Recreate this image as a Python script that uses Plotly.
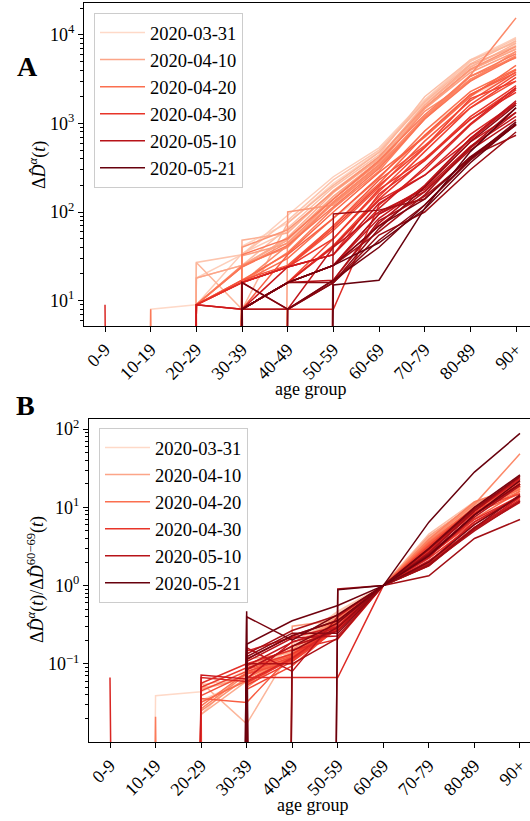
import plotly.graph_objects as go
from plotly.colors import sample_colorscale

age_groups = ["0-9", "10-19", "20-29", "30-39", "40-49", "50-59",
              "60-69", "70-79", "80-89", "90+"]

dates = ["2020-03-31", "2020-04-01", "2020-04-02", "2020-04-03", "2020-04-04",
         "2020-04-05", "2020-04-06", "2020-04-07", "2020-04-08", "2020-04-09",
         "2020-04-10", "2020-04-11", "2020-04-12", "2020-04-13", "2020-04-14",
         "2020-04-15", "2020-04-16", "2020-04-17", "2020-04-18", "2020-04-19",
         "2020-04-20", "2020-04-21", "2020-04-22", "2020-04-23", "2020-04-24",
         "2020-04-25", "2020-04-26", "2020-04-27", "2020-04-28", "2020-04-29",
         "2020-04-30", "2020-05-01", "2020-05-02", "2020-05-03", "2020-05-04",
         "2020-05-05", "2020-05-06", "2020-05-07", "2020-05-08", "2020-05-09",
         "2020-05-10", "2020-05-11", "2020-05-12", "2020-05-13", "2020-05-14",
         "2020-05-15", "2020-05-16", "2020-05-17", "2020-05-18", "2020-05-19",
         "2020-05-20", "2020-05-21"]

legend_dates = ["2020-03-31", "2020-04-10", "2020-04-20",
                "2020-04-30", "2020-05-10", "2020-05-21"]

# Delta D-hat per age group (one value per date, in the order of `dates`)
d_0_9 = [0, 0, 0, 0, 0, 0, 0, 0, 0, 0,
         0, 0, 0, 0, 0, 0, 0, 0, 0, 0,
         0, 0, 0, 0, 0, 0, 0, 0, 0, 0,
         0, 0, 0, 9, 0, 0, 0, 0, 0, 0,
         0, 0, 0, 0, 0, 0, 0, 0, 0, 0,
         0, 0]
d_10_19 = [8, 0, 0, 0, 0, 0, 0, 0, 0, 0,
           0, 0, 0, 0, 0, 0, 0, 0, 8, 0,
           0, 0, 0, 0, 0, 0, 0, 0, 0, 0,
           0, 0, 0, 0, 0, 0, 0, 0, 0, 0,
           0, 0, 0, 0, 0, 0, 0, 0, 0, 0,
           0, 0]
d_20_29 = [9, 0, 18, 9, 27, 0, 18, 27, 0, 9,
           18, 0, 9, 0, 9, 0, 9, 0, 0, 9,
           0, 9, 0, 9, 0, 9, 0, 9, 0, 9,
           0, 9, 0, 9, 0, 0, 9, 0, 0, 0,
           0, 0, 0, 0, 0, 0, 0, 0, 0, 0,
           0, 0]
d_30_39 = [17, 41, 33, 34, 33, 25, 25, 8, 48, 24,
           25, 32, 0, 40, 24, 16, 25, 16, 33, 24,
           16, 17, 16, 8, 16, 17, 8, 16, 8, 16,
           8, 16, 8, 8, 16, 8, 8, 8, 16, 8,
           8, 8, 8, 8, 16, 0, 8, 0, 8, 16,
           8, 8]
d_40_49 = [34, 75, 92, 60, 80, 66, 50, 75, 58, 52,
           48, 44, 100, 63, 45, 42, 40, 35, 50, 42,
           30, 34, 24, 33, 24, 25, 16, 24, 16, 24,
           16, 24, 8, 16, 24, 16, 24, 16, 8, 16,
           16, 16, 8, 16, 0, 8, 16, 8, 16, 8,
           16, 0]
d_50_59 = [85, 210, 250, 170, 230, 190, 150, 200, 175, 165,
           150, 130, 120, 170, 140, 125, 130, 110, 140, 115,
           85, 100, 70, 85, 62, 70, 50, 66, 42, 50,
           40, 33, 8, 41, 33, 25, 33, 25, 40, 17,
           25, 25, 17, 25, 95, 16, 16, 16, 25, 17,
           25, 15]
d_60_69 = [205, 480, 530, 400, 500, 440, 370, 470, 420, 400,
           380, 340, 330, 420, 360, 320, 340, 290, 380, 310,
           240, 280, 210, 250, 190, 230, 170, 200, 150, 180,
           140, 160, 120, 135, 110, 95, 125, 85, 100, 75,
           95, 70, 80, 60, 105, 55, 65, 48, 70, 40,
           45, 17]
d_70_79 = [820, 1780, 1850, 1680, 1800, 2000, 1520, 1740, 1600, 1600,
           1480, 1460, 1120, 1510, 1370, 1180, 1190, 1130, 1250, 1120,
           820, 700, 735, 725, 630, 560, 530, 540, 480, 400,
           390, 380, 300, 260, 320, 190, 260, 195, 180, 200,
           170, 170, 150, 156, 140, 100, 190, 120, 140, 120,
           108, 110]
d_80_89 = [2050, 5000, 5200, 4400, 5000, 5200, 4000, 4700, 4300, 4600,
           4000, 3750, 3150, 4100, 3000, 3500, 3130, 3400, 3400, 3000,
           2280, 2000, 2100, 2120, 1790, 1500, 1630, 1900, 1500, 1100,
           1190, 1120, 960, 750, 990, 620, 650, 680, 550, 675,
           500, 525, 400, 540, 420, 300, 620, 385, 420, 400,
           360, 480]
d_90_plus = [3500, 8600, 9300, 7600, 9000, 8150, 7000, 8500, 8000, 7400,
             6850, 6450, 5600, 7350, 6500, 15500, 5800, 5500, 6100, 5600,
             4100, 4500, 4000, 3750, 3800, 3000, 3570, 3000, 3300, 2500,
             2660, 2240, 2400, 1700, 2530, 1330, 1700, 1700, 1200, 1800,
             1100, 1330, 960, 1500, 735, 800, 1620, 960, 980, 1040,
             990, 1500]

columns = [d_0_9, d_10_19, d_20_29, d_30_39, d_40_49, d_50_59,
           d_60_69, d_70_79, d_80_89, d_90_plus]
ref_index = age_groups.index("60-69")

W, H = 530, 821
SERIF = "Liberation Serif, Times New Roman, serif"
FLOOR = 1e-60  # zero counts are clipped far below the axis (as matplotlib does)

xs = list(range(len(age_groups)))
n = len(dates)
fig = go.Figure()
for i, date in enumerate(dates):
    vals = [col[i] for col in columns]
    ref = vals[ref_index]
    ratio = [v / ref for v in vals]
    color = sample_colorscale("Reds", [0.15 + 0.85 * i / (n - 1)])[0]
    show = date in legend_dates
    yA = [v if v > 0 else FLOOR for v in vals]
    yB = [r if r > 0 else FLOOR for r in ratio]
    fig.add_trace(go.Scatter(
        x=xs, y=yA, mode="lines", name=date, showlegend=show,
        legend="legend", legendgroup="A" + date,
        line=dict(color=color, width=1.5), xaxis="x", yaxis="y"))
    fig.add_trace(go.Scatter(
        x=xs, y=yB, mode="lines", name=date, showlegend=show,
        legend="legend2", legendgroup="B" + date,
        line=dict(color=color, width=1.5), xaxis="x2", yaxis="y2"))


def px_x(p):
    return p / W


def px_y(p):
    return 1 - p / H


def log_minor(lo, hi):
    out = []
    for e in range(lo, hi):
        for m in range(2, 10):
            out.append(m * 10 ** e)
    return out


tickfont = dict(family=SERIF, size=18, color="black")
common_x = dict(tickvals=xs, ticktext=age_groups, tickangle=-45,
                ticks="outside", ticklen=5, tickcolor="black",
                showline=True, linecolor="black", linewidth=1, mirror=True,
                showgrid=False, zeroline=False, tickfont=tickfont,
                automargin=False)
common_y = dict(type="log", ticks="outside", ticklen=5, tickcolor="black",
                showline=True, linecolor="black", linewidth=1,
                showgrid=False, zeroline=False, tickfont=tickfont,
                automargin=False)
legend_common = dict(xanchor="left", yanchor="top",
                     bgcolor="rgba(255,255,255,0.85)", bordercolor="#cccccc",
                     borderwidth=1, font=dict(family=SERIF, size=18.5),
                     traceorder="grouped", tracegroupgap=0, itemwidth=45)


def label(text, x, y, size=18, angle=0):
    return dict(text=text, x=px_x(x), y=px_y(y), xref="paper", yref="paper",
                xanchor="center", yanchor="middle", textangle=angle,
                showarrow=False, font=dict(size=size, family=SERIF,
                                           color="black"))


fig.update_layout(
    width=W, height=H,
    margin=dict(l=0, r=0, t=0, b=0, autoexpand=False),
    paper_bgcolor="white", plot_bgcolor="white",
    font=dict(family=SERIF, size=18, color="black"),
    xaxis=dict(domain=[px_x(84), 1], range=[-0.46, 9.306], anchor="y",
               **common_x),
    yaxis=dict(domain=[px_y(326), px_y(3)], range=[0.714, 4.358], anchor="x",
               tickvals=[10, 100, 1000, 10000],
               ticktext=["10<sup>1</sup>", "10<sup>2</sup>",
                         "10<sup>3</sup>", "10<sup>4</sup>"],
               minor=dict(tickvals=log_minor(0, 5), ticks="outside",
                          ticklen=3, tickcolor="black"),
               **common_y),
    xaxis2=dict(domain=[px_x(89), 1], range=[-0.461, 9.22], anchor="y2",
                **common_x),
    yaxis2=dict(domain=[px_y(742), px_y(419)], range=[-2.0, 2.13],
                anchor="x2",
                tickvals=[0.1, 1, 10, 100],
                ticktext=["10<sup>−1</sup>", "10<sup>0</sup>",
                          "10<sup>1</sup>", "10<sup>2</sup>"],
                minor=dict(tickvals=log_minor(-2, 3), ticks="outside",
                           ticklen=3, tickcolor="black"),
                **common_y),
    legend=dict(x=px_x(94), y=px_y(13), **legend_common),
    legend2=dict(x=px_x(99), y=px_y(428), **legend_common),
    annotations=[
        label("<b>A</b>", 27, 66, size=28),
        label("<b>B</b>", 25, 405, size=28),
        label("Δ<i>D̂</i><sup><i>α</i></sup>(<i>t</i>)", 38, 165, angle=-90),
        label("Δ<i>D̂</i><sup><i>α</i></sup>(<i>t</i>)/Δ<i>D̂</i>"
              "<sup>60−69</sup>(<i>t</i>)", 36, 580, angle=-90),
        label("age group", 310, 389),
        label("age group", 312, 805),
    ],
)

fig.write_html("out.html", config={"displayModeBar": False},
               post_script="document.body.style.margin='0px';")
